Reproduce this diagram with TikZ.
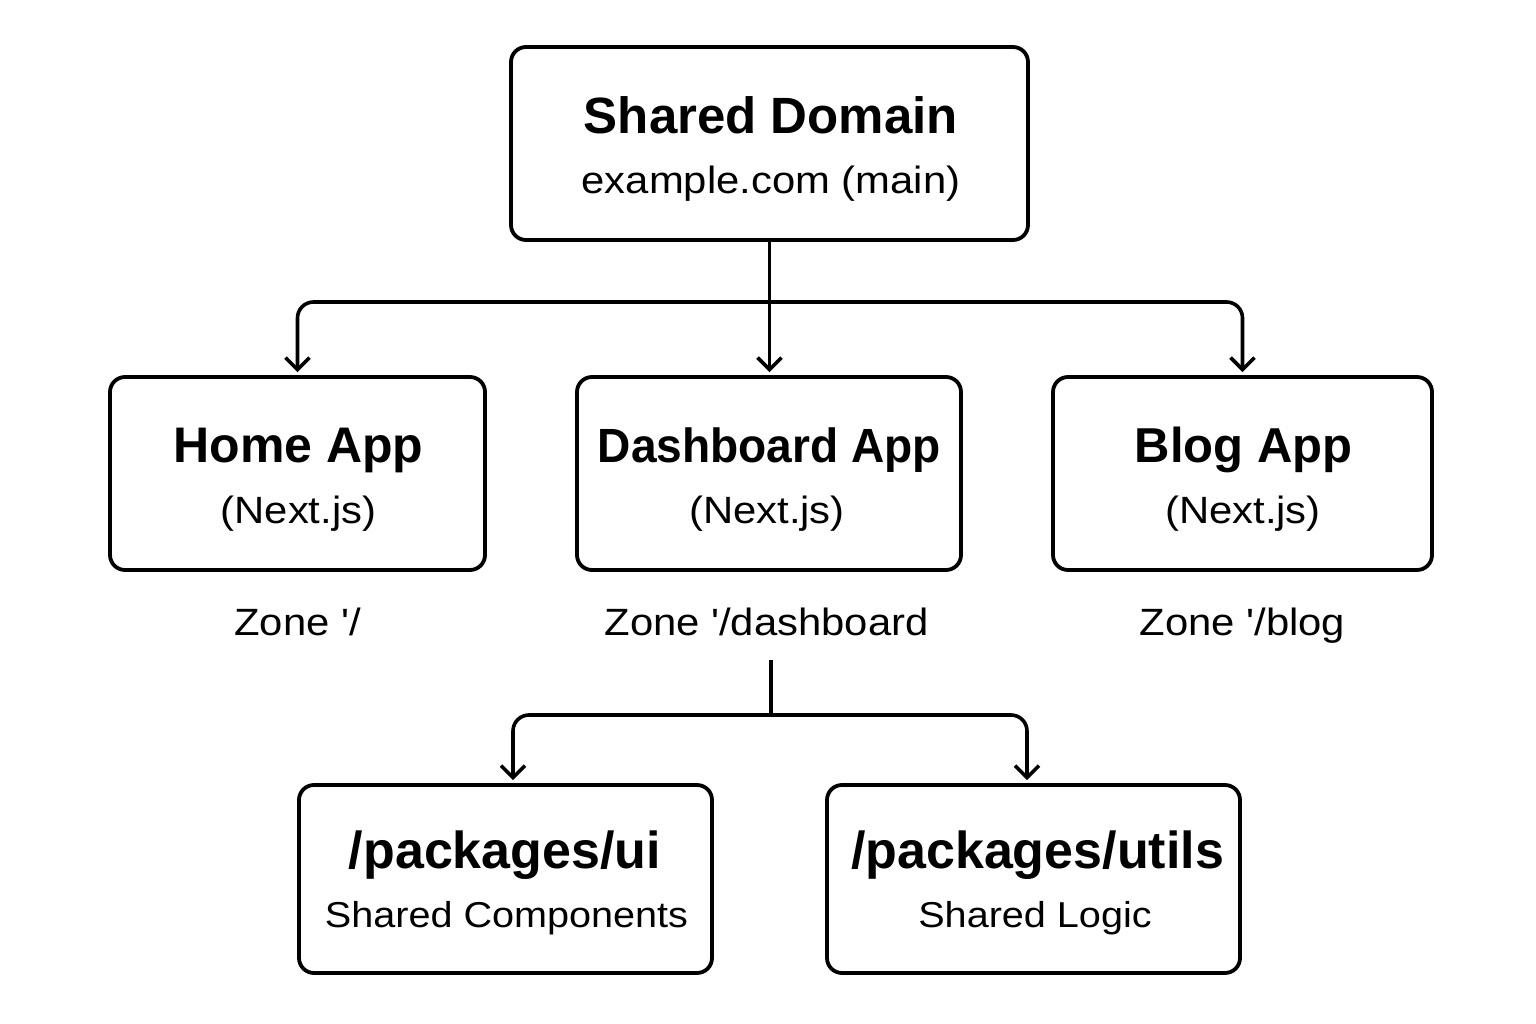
\documentclass[tikz,border=0pt]{standalone}
\usepackage{fontspec}
\newfontfamily\ls{Liberation Sans}
\newfontfamily\lscond{Liberation Sans}[FakeStretch=0.96]
\newfontfamily\lsreg{Liberation Sans}[FakeStretch=1.1]
\usetikzlibrary{arrows.meta}
\begin{document}
\begin{tikzpicture}[x=1pt,y=-1pt,
  box/.style={draw, line width=3.8pt, rounded corners=15pt, inner sep=0pt},
  ttl/.style={anchor=base, inner sep=0pt, font={\ls\bfseries\fontsize{#1}{#1}\selectfont}},
  ttlc/.style={anchor=base, inner sep=0pt, font={\lscond\bfseries\fontsize{#1}{#1}\selectfont}},
  sub/.style={anchor=base, inner sep=0pt, font={\lsreg\fontsize{#1}{#1}\selectfont}},
  conn/.style={line width=3.6pt, rounded corners=16pt},
  arr/.style={conn, shorten >=3pt, -{Straight Barb[length=12pt,width=24pt]}}]
\useasboundingbox (0,0) rectangle (1536,1024);
\fill[white] (0,0) rectangle (1536,1024);
% top
\node[box, minimum width=517pt, minimum height=193pt] (dom) at (769.5,143.5) {};
\node[ttl=51] (domt) at (771,134) {Shared Domain};
\node[sub=38] (doms) at (771,194) {example.com (main)};
% apps
\node[box, minimum width=375pt, minimum height=193pt] (home) at (297.5,473.5) {};
\node[ttl=50] (homet) at (298.5,462) {Home App};
\node[sub=38] (homes) at (298.5,523) {(Next.js)};
\node[box, minimum width=384pt, minimum height=193pt] (dash) at (769,473.5) {};
\node[ttlc=48] (dasht) at (769.5,462) {Dashboard App};
\node[sub=38] (dashs) at (767,523) {(Next.js)};
\node[box, minimum width=379pt, minimum height=193pt] (blog) at (1242.5,473.5) {};
\node[ttl=49] (blogt) at (1243.5,462) {Blog App};
\node[sub=38] (blogs) at (1243,523) {(Next.js)};
% zones
\node[sub=38] (zh) at (297.5,635) {Zone '/};
\node[sub=38] (zd) at (766.5,635) {Zone '/dashboard};
\node[sub=38] (zb) at (1242.5,635) {Zone '/blog};
% packages
\node[box, minimum width=413pt, minimum height=188pt] (ui) at (505.5,879) {};
\node[ttl=52] (uit) at (505,868) {/packages/ui};
\node[sub=36] (uis) at (506.5,927) {Shared Components};
\node[box, minimum width=413pt, minimum height=188pt] (utils) at (1033.5,879) {};
\node[ttl=52] (utilst) at (1037.5,868) {/packages/utils};
\node[sub=36] (utilss) at (1035,927) {Shared Logic};
% connectors
\coordinate (j1) at (770,302);
\draw[arr] (dom.south) -- (dom.south |- dash.north);
\draw[arr] (j1) -| (home.north);
\draw[arr] (j1) -| (blog.north);
\coordinate (zs) at (771,660);
\coordinate (j2) at (771,715);
\draw[conn] (zs) -- (j2);
\draw[arr] (j2) -| ([xshift=7.5pt]ui.north);
\draw[arr] (j2) -| ([xshift=-6.5pt]utils.north);
\end{tikzpicture}
\end{document}
